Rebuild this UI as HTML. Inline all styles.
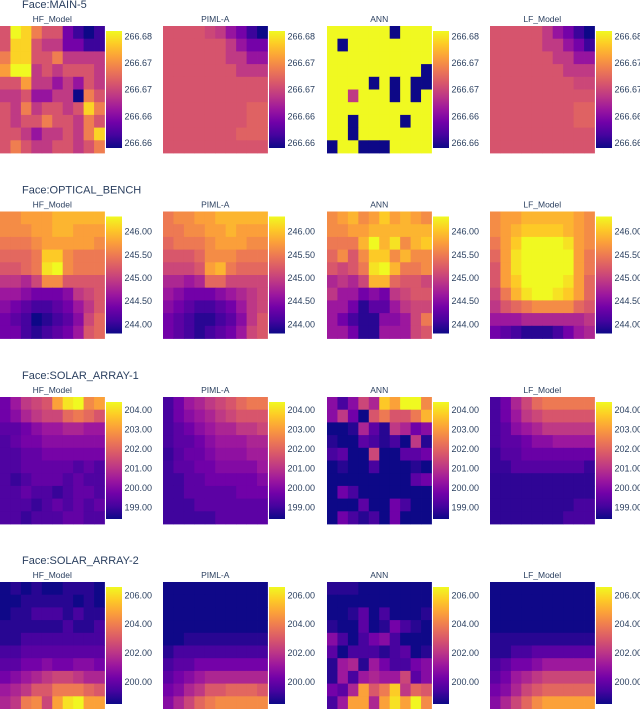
<!DOCTYPE html>
<html><head><meta charset="utf-8"><style>
html,body{margin:0;padding:0;background:#fff;}
svg{display:block;font-family:"Liberation Sans",sans-serif;}
</style></head><body>
<svg id="chart" width="640" height="709" viewBox="0 0 640 709" xmlns="http://www.w3.org/2000/svg">
<defs id="defs"></defs>
</svg>
<script>
const faces = ["Face:MAIN-5","Face:OPTICAL_BENCH","Face:SOLAR_ARRAY-1","Face:SOLAR_ARRAY-2"];
const models = ["HF_Model","PIML-A","ANN","LF_Model"];
const zRanges = [[266.659,266.681],[243.8,246.32],[198.4,204.4],[198.47,206.56]];
const tickValues = [[266.66,266.665,266.67,266.675,266.68],[244,244.5,245,245.5,246],[199,200,201,202,203,204],[200,202,204,206]];
const tickLabels = [["266.66","266.66","266.67","266.67","266.68"],["244.00","244.50","245.00","245.50","246.00"],["199.00","200.00","201.00","202.00","203.00","204.00"],["200.00","202.00","204.00","206.00"]];

const main5_hf = [
[266.671,266.681,266.679,266.674,266.671,266.671,266.664,266.661,266.659,266.661],
[266.671,266.679,266.679,266.671,266.669,266.669,266.664,266.664,266.661,266.661],
[266.674,266.679,266.679,266.671,266.671,266.674,266.669,266.669,266.669,266.669],
[266.676,266.681,266.681,266.669,266.671,266.669,266.671,266.671,266.671,266.669],
[266.671,266.671,266.676,266.669,266.669,266.666,266.669,266.666,266.671,266.669],
[266.669,266.669,266.671,266.666,266.666,266.669,266.669,266.659,266.674,266.671],
[266.671,266.669,266.674,266.669,266.671,266.671,266.669,266.671,266.679,266.674],
[266.671,266.669,266.671,266.671,266.674,266.671,266.671,266.669,266.674,266.671],
[266.671,266.671,266.669,266.666,266.669,266.669,266.671,266.669,266.674,266.679],
[266.671,266.674,266.671,266.669,266.669,266.671,266.671,266.669,266.671,266.674]];
const main5_piml = [
[266.671,266.671,266.671,266.671,266.670,266.669,266.666,266.664,266.661,266.659],
[266.671,266.671,266.671,266.671,266.671,266.671,266.669,266.666,266.664,266.664],
[266.671,266.671,266.671,266.671,266.671,266.671,266.669,266.669,266.666,266.666],
[266.671,266.671,266.671,266.671,266.671,266.671,266.671,266.669,266.669,266.669],
[266.671,266.671,266.671,266.671,266.671,266.671,266.671,266.671,266.671,266.671],
[266.671,266.671,266.671,266.671,266.671,266.671,266.671,266.671,266.671,266.671],
[266.671,266.671,266.671,266.671,266.671,266.671,266.671,266.671,266.672,266.672],
[266.671,266.671,266.671,266.671,266.671,266.671,266.671,266.671,266.672,266.672],
[266.671,266.671,266.671,266.671,266.671,266.671,266.671,266.672,266.672,266.672],
[266.671,266.671,266.671,266.671,266.671,266.671,266.671,266.671,266.671,266.671]];
const main5_ann = [
[266.681,266.681,266.681,266.681,266.681,266.681,266.659,266.681,266.681,266.681],
[266.681,266.659,266.681,266.681,266.681,266.681,266.681,266.681,266.681,266.681],
[266.681,266.681,266.681,266.681,266.681,266.681,266.681,266.681,266.681,266.681],
[266.681,266.681,266.681,266.681,266.681,266.681,266.681,266.681,266.681,266.659],
[266.681,266.681,266.681,266.681,266.659,266.681,266.659,266.681,266.659,266.659],
[266.681,266.681,266.669,266.681,266.681,266.681,266.659,266.681,266.659,266.681],
[266.681,266.681,266.681,266.681,266.681,266.681,266.681,266.681,266.681,266.681],
[266.681,266.681,266.659,266.681,266.681,266.681,266.681,266.659,266.681,266.681],
[266.681,266.681,266.659,266.681,266.681,266.681,266.681,266.681,266.681,266.681],
[266.659,266.681,266.681,266.659,266.659,266.659,266.681,266.681,266.681,266.681]];
const main5_lf = [
[266.671,266.671,266.671,266.671,266.671,266.669,266.666,266.664,266.661,266.659],
[266.671,266.671,266.671,266.671,266.671,266.669,266.669,266.666,266.664,266.661],
[266.671,266.671,266.671,266.671,266.671,266.671,266.669,266.669,266.666,266.666],
[266.671,266.671,266.671,266.671,266.671,266.671,266.671,266.669,266.669,266.669],
[266.671,266.671,266.671,266.671,266.671,266.671,266.671,266.671,266.670,266.670],
[266.671,266.671,266.671,266.671,266.671,266.671,266.671,266.671,266.671,266.671],
[266.671,266.671,266.671,266.671,266.671,266.671,266.671,266.671,266.672,266.672],
[266.671,266.671,266.671,266.671,266.671,266.671,266.671,266.671,266.672,266.672],
[266.671,266.671,266.671,266.671,266.671,266.671,266.671,266.671,266.671,266.671],
[266.671,266.671,266.671,266.671,266.671,266.671,266.671,266.671,266.671,266.671]];

const optical_hf = [
[245.62,245.62,245.76,245.76,245.76,245.9,245.9,245.9,245.9,245.9],
[245.62,245.62,245.62,245.76,245.76,245.9,245.9,245.76,245.76,245.76],
[245.48,245.48,245.48,245.62,245.76,245.76,245.76,245.76,245.76,245.62],
[245.34,245.34,245.34,245.48,246.04,246.04,245.62,245.48,245.48,245.48],
[245.2,245.2,245.34,245.48,246.18,246.32,245.62,245.48,245.48,245.48],
[244.92,244.92,244.78,245.06,245.62,245.62,245.2,245.2,245.2,245.2],
[244.64,244.64,244.5,244.36,244.36,244.36,244.5,244.92,245.06,245.2],
[244.5,244.36,244.22,244.08,244.08,244.22,244.36,244.64,244.92,245.2],
[244.36,244.22,244.08,243.8,243.94,244.08,244.22,244.5,245.06,245.34],
[244.36,244.36,244.08,243.94,244.08,244.22,244.36,244.64,245.2,245.34]];
const optical_piml = [
[245.48,245.62,245.62,245.76,245.76,245.9,245.9,245.9,245.9,245.9],
[245.48,245.48,245.62,245.62,245.76,245.76,245.9,245.76,245.76,245.76],
[245.34,245.48,245.48,245.48,245.62,245.76,245.76,245.76,245.62,245.62],
[245.2,245.2,245.2,245.34,245.62,245.62,245.62,245.48,245.48,245.48],
[245.06,245.06,245.06,245.2,245.76,245.9,245.48,245.34,245.34,245.34],
[244.78,244.78,244.64,244.78,245.34,245.34,245.06,245.06,245.06,245.06],
[244.64,244.5,244.36,244.36,244.36,244.5,244.64,244.78,244.92,245.06],
[244.5,244.36,244.22,244.08,244.08,244.22,244.36,244.64,244.92,245.06],
[244.36,244.22,244.08,243.94,243.94,244.08,244.22,244.5,244.92,245.2],
[244.36,244.22,244.08,243.94,244.08,244.22,244.36,244.64,245.06,245.2]];
const optical_ann = [
[245.62,245.76,245.9,245.62,245.76,246.04,245.76,245.9,245.76,245.62],
[245.62,245.62,245.76,245.76,245.9,245.9,245.9,245.9,245.9,245.9],
[245.48,245.48,245.48,245.9,246.32,245.9,246.18,245.62,245.9,246.04],
[245.34,245.62,245.2,245.62,246.04,246.04,245.62,245.9,245.62,245.62],
[245.2,245.06,245.2,245.48,246.18,246.32,245.9,245.48,245.48,245.62],
[244.78,244.92,244.78,245.06,245.9,245.9,245.34,245.2,245.2,245.06],
[244.92,244.64,244.64,244.36,244.5,244.36,244.92,245.06,245.2,245.2],
[244.64,244.64,244.36,243.94,244.22,244.22,244.64,244.92,245.06,245.06],
[244.64,244.36,244.08,243.94,243.94,244.5,244.5,244.64,245.06,245.48],
[244.64,244.64,244.36,243.94,243.94,244.64,244.64,244.64,245.06,245.2]];
const optical_lf = [
[245.62,245.76,245.76,245.9,245.9,245.9,245.9,245.9,245.76,245.62],
[245.62,245.76,245.9,246.04,246.04,246.04,246.04,245.9,245.76,245.62],
[245.48,245.76,246.04,246.32,246.32,246.32,246.32,246.18,245.76,245.62],
[245.34,245.76,246.18,246.32,246.32,246.32,246.32,246.32,245.76,245.48],
[245.2,245.76,246.18,246.32,246.32,246.32,246.32,246.32,245.76,245.48],
[245.2,245.76,246.04,246.32,246.32,246.32,246.32,246.18,245.76,245.34],
[245.06,245.48,245.9,246.18,246.32,246.32,246.18,246.04,245.76,245.34],
[244.92,245.2,245.34,245.48,245.62,245.62,245.62,245.62,245.34,245.2],
[244.64,244.64,244.64,244.78,244.78,244.78,244.78,244.78,244.78,244.92],
[244.36,244.22,244.08,243.94,243.94,243.94,244.08,244.36,244.64,244.78]];

const solar1_hf = [
[199.7,200.4,201.1,201.4,201.7,203.1,204.1,204.4,202.7,203.1],
[199.7,200.1,200.7,201.1,201.4,201.4,202.1,202.4,202.1,201.7],
[199.4,199.4,199.7,200.1,200.4,200.4,200.7,200.7,200.4,200.4],
[199.2,199.5,199.8,199.8,200.1,200.1,200.1,200.1,200.1,200.1],
[199.2,199.2,199.5,199.5,199.8,199.8,199.8,199.8,199.8,199.8],
[199.2,199.2,199.5,199.5,199.5,199.5,199.5,199.2,199.5,199.2],
[199.2,198.9,199.2,199.5,199.5,199.5,199.2,199.5,199.2,199.2],
[199.2,199.2,199.5,199.2,199.2,198.9,199.2,199.5,199.5,199.2],
[199.2,199.2,199.2,198.9,199.2,199.5,199.2,199.5,199.2,199.5],
[199.2,199.2,198.9,199.2,199.2,199.2,199.5,199.5,199.2,199.2]];
const solar1_piml = [
[199.1,199.7,200.4,200.7,201.1,201.4,201.7,202.1,202.4,202.4],
[199.1,199.7,200.1,200.4,200.7,201.1,201.4,201.7,201.7,201.7],
[199.1,199.4,199.7,200.1,200.4,200.7,200.7,201.1,201.1,201.4],
[199.1,199.4,199.4,199.7,200.1,200.4,200.4,200.4,200.7,200.7],
[198.9,199.3,199.6,199.6,199.9,200.2,200.2,200.2,200.5,200.5],
[199.0,199.4,199.4,199.7,199.7,200.0,200.0,200.0,200.0,200.4],
[199.0,199.0,199.4,199.4,199.7,199.7,199.7,199.7,199.7,200.0],
[199.0,199.0,199.4,199.4,199.4,199.4,199.4,199.7,199.7,199.7],
[199.0,199.0,199.0,199.4,199.4,199.4,199.4,199.4,199.4,199.4],
[199.0,199.0,199.0,199.0,199.0,199.4,199.4,199.4,199.4,199.4]];
const solar1_ann = [
[200.1,199.1,200.1,201.4,200.7,203.7,203.1,204.4,204.4,202.7],
[200.1,201.1,199.7,198.4,201.7,202.4,201.7,201.7,202.4,203.4],
[198.4,198.4,198.7,200.7,199.4,198.7,201.1,200.7,199.7,200.1],
[198.7,198.4,198.4,199.4,199.1,198.7,199.1,198.4,201.1,198.7],
[199.1,199.4,198.4,198.4,201.4,198.4,198.4,199.4,199.4,199.7],
[198.4,198.7,198.4,198.4,199.1,198.4,198.4,198.4,198.7,198.4],
[198.4,198.4,198.4,198.4,198.4,198.4,198.4,198.4,199.4,199.7],
[198.4,199.7,199.1,198.4,198.4,198.4,198.4,198.4,198.4,198.4],
[198.4,198.4,198.4,199.4,198.4,198.4,199.7,199.1,198.4,198.4],
[198.4,199.7,199.1,198.7,199.1,198.4,199.7,198.4,198.4,198.4]];
const solar1_lf = [
[199.1,199.7,200.7,201.4,202.1,202.4,202.4,202.4,202.4,202.4],
[199.1,199.7,200.4,201.1,201.4,201.7,201.7,201.7,201.7,201.7],
[199.1,199.4,200.1,200.4,200.7,201.1,201.1,201.1,201.1,201.1],
[199.1,199.4,199.4,199.7,200.1,200.1,200.4,200.4,200.4,200.4],
[198.9,199.3,199.3,199.6,199.6,199.6,199.6,199.6,199.6,199.6],
[198.9,198.9,199.3,199.3,199.3,199.3,199.3,199.3,199.3,198.9],
[198.8,198.8,198.8,198.8,198.8,198.8,198.8,198.8,198.8,198.8],
[198.8,198.8,198.8,198.8,198.8,198.8,198.8,198.8,198.8,198.8],
[198.8,198.8,198.8,198.8,198.8,198.8,198.8,198.8,199.1,199.1],
[198.8,198.8,198.8,198.8,198.8,198.8,198.8,199.1,199.1,199.1]];

const solar2_hf = [
[198.5,198.9,198.5,198.9,198.5,198.5,198.9,198.9,198.9,198.5],
[198.5,198.5,198.9,198.9,198.9,198.9,198.9,198.5,198.9,198.5],
[198.5,198.9,198.9,199.4,199.4,199.4,198.9,199.4,198.9,198.9],
[198.9,198.9,198.9,198.9,198.9,198.9,199.4,198.9,198.9,199.4],
[198.9,198.9,199.4,199.4,199.4,199.4,199.4,199.4,199.4,199.4],
[199.4,199.4,199.8,199.8,199.8,199.8,199.8,199.8,199.8,199.8],
[199.8,199.8,200.3,200.3,200.7,200.3,200.3,200.7,200.7,200.3],
[200.3,200.7,201.2,201.6,202.1,202.5,202.5,202.1,201.6,201.6],
[201.2,201.6,202.1,203.0,203.0,203.9,203.9,203.9,203.4,203.0],
[201.6,202.1,203.9,204.3,202.5,204.8,206.1,206.5,204.8,204.8]];
const solar2_piml = [
[198.5,198.5,198.5,198.5,198.5,198.5,198.5,198.5,198.5,198.5],
[198.5,198.5,198.5,198.5,198.5,198.5,198.5,198.5,198.5,198.5],
[198.5,198.5,198.5,198.5,198.5,198.5,198.5,198.5,198.5,198.5],
[198.5,198.5,198.5,198.5,198.5,198.5,198.5,198.5,198.5,198.5],
[198.5,198.5,198.9,198.9,198.9,198.9,198.9,198.9,198.9,198.9],
[198.9,199.4,199.4,199.4,199.4,199.4,199.4,199.4,199.4,199.4],
[199.4,199.8,199.8,200.3,200.3,200.3,200.3,200.3,200.3,200.3],
[199.8,200.3,200.7,201.2,201.6,201.6,201.6,201.6,201.6,201.6],
[200.3,200.7,201.6,202.1,203.0,203.0,203.4,203.4,203.4,203.0],
[200.7,201.6,202.5,203.4,203.9,204.3,204.3,204.3,204.3,204.3]];
const solar2_ann = [
[198.9,198.9,198.9,198.5,198.5,198.5,198.5,198.5,198.5,198.5],
[198.5,198.5,198.5,198.5,198.5,198.5,198.5,198.5,198.5,198.5],
[198.5,198.5,198.9,199.8,198.5,199.4,198.5,198.5,198.5,198.9],
[198.9,198.5,198.5,199.8,198.5,198.9,200.3,199.4,198.9,198.5],
[200.7,199.4,198.5,199.4,200.3,200.7,199.4,198.5,198.5,198.5],
[199.8,198.5,199.4,199.4,199.4,198.9,199.4,199.8,198.5,198.9],
[198.9,201.2,201.6,198.9,201.2,200.3,199.4,199.4,200.3,200.7],
[198.9,201.2,199.4,201.2,201.6,201.2,201.2,202.5,199.8,200.7],
[200.3,199.8,201.6,204.8,203.0,203.9,205.7,202.1,203.4,203.0],
[199.4,201.2,204.8,204.8,201.6,204.8,206.1,204.8,206.5,204.3]];
const solar2_lf = [
[198.5,198.5,198.5,198.5,198.5,198.5,198.5,198.5,198.5,198.5],
[198.5,198.5,198.5,198.5,198.5,198.5,198.5,198.5,198.5,198.5],
[198.5,198.5,198.5,198.5,198.5,198.5,198.5,198.5,198.5,198.5],
[198.5,198.5,198.5,198.5,198.5,198.5,198.5,198.5,198.5,198.5],
[198.9,198.9,198.9,198.9,198.9,198.9,198.9,198.9,198.9,198.9],
[198.9,198.9,199.4,199.4,199.8,199.8,199.8,199.8,199.8,199.8],
[199.4,199.8,200.3,200.3,200.7,201.2,201.2,201.2,201.2,201.2],
[199.8,200.3,201.2,201.6,202.1,202.5,202.5,202.5,202.5,202.5],
[200.3,200.7,201.6,202.5,203.0,203.4,203.4,203.4,203.4,203.4],
[200.7,201.6,202.5,203.4,204.3,204.8,204.8,204.8,204.8,204.8]];

const grids = [
 [main5_hf, main5_piml, main5_ann, main5_lf],
 [optical_hf, optical_piml, optical_ann, optical_lf],
 [solar1_hf, solar1_piml, solar1_ann, solar1_lf],
 [solar2_hf, solar2_piml, solar2_ann, solar2_lf]];

const NS = "http://www.w3.org/2000/svg";
const svg = document.getElementById('chart');
const defs = document.getElementById('defs');
const plasma = ["#0d0887","#46039f","#7201a8","#9c179e","#bd3786","#d8576b","#ed7953","#fb9f3a","#fdca26","#f0f921"];
function hex(c){return [parseInt(c.slice(1,3),16),parseInt(c.slice(3,5),16),parseInt(c.slice(5,7),16)];}
function colorAt(t){
  t=Math.max(0,Math.min(1,t));
  const p=t*(plasma.length-1), i=Math.min(Math.floor(p),plasma.length-2), f=p-i;
  const a=hex(plasma[i]), b=hex(plasma[i+1]);
  return "rgb("+a.map((v,k)=>Math.round(v+(b[k]-v)*f)).join(",")+")";
}
function mk(tag, attrs, parent){const e=document.createElementNS(NS,tag);for(const k in attrs)e.setAttribute(k,attrs[k]);(parent||svg).appendChild(e);return e;}

const colX = [0,163,327,490];
const rowY = [26,211.5,397,582];
const W = 104.5, H = 127;
const TXT = "#2a3f5f";

const g = mk('linearGradient',{id:'plasmaGrad',x1:'0',y1:'1',x2:'0',y2:'0'},defs);
plasma.forEach((c,i)=>mk('stop',{offset:(i/(plasma.length-1)),'stop-color':c},g));

faces.forEach((face, fi)=>{
  const [zmin,zmax] = zRanges[fi];
  const y0 = rowY[fi];
  const ft = mk('text',{x:22,y:y0-18,'font-size':'11px',fill:TXT});
  ft.textContent = face;
  
  
  models.forEach((model, mi)=>{
    const x0 = colX[mi];
    const z = grids[fi][mi];
    const grp = mk('g',{});
    
    
    const st = mk('text',{x:x0+W/2,y:y0-4,'font-size':'8.5px',fill:TXT,'text-anchor':'middle'},grp);
    st.textContent = model;
    
    
    const nr = z.length, nc = z[0].length;
    const xs = c => x0 + c*W/nc;
    const ys = r => y0 + r*H/nr;
    for(let r=0;r<nr;r++)for(let c=0;c<nc;c++){
      const cell = mk('rect',{x:xs(c),y:ys(r),width:W/nc+0.4,height:H/nr+0.4,fill:colorAt((z[r][c]-zmin)/(zmax-zmin))},grp);
      
      
    }
    const cbx = x0+W+1.5, cby0 = y0+5, cby1 = y0+H-5;
    const cb = mk('rect',{x:cbx,y:cby0,width:16,height:cby1-cby0,fill:'url(#plasmaGrad)'});
    
    
    const cbScale = v => cby1 - (v-zmin)/(zmax-zmin)*(cby1-cby0);
    tickValues[fi].forEach((tv,ti)=>{
      const t = mk('text',{x:cbx+18.5,y:cbScale(tv)+3.2,'font-size':'9px',fill:TXT});
      t.textContent = tickLabels[fi][ti];
      
      
    });
  });
});
</script>
</body></html>
